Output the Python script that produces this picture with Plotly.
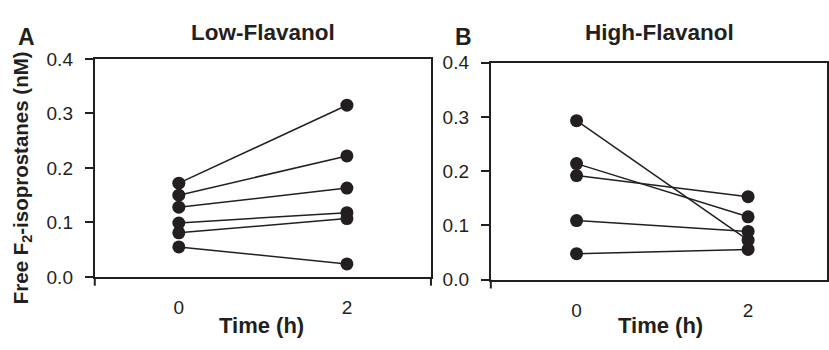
import plotly.graph_objects as go

# ---- data ----
times = [0, 2]
low_t0 = [0.172, 0.150, 0.128, 0.099, 0.081, 0.055]
low_t2 = [0.315, 0.222, 0.163, 0.118, 0.107, 0.024]
high_t0 = [0.293, 0.214, 0.192, 0.109, 0.048]
high_t2 = [0.073, 0.116, 0.153, 0.089, 0.056]
y_ticks = [0.0, 0.1, 0.2, 0.3, 0.4]
y_ticklabels = ["0.0", "0.1", "0.2", "0.3", "0.4"]
x_ticks = [0, 2]
panel_titles = ["Low-Flavanol", "High-Flavanol"]
panel_letters = ["A", "B"]

INK = "#231f20"
W, H = 829, 350

fig = go.Figure()

def add_pairs(t0, t2, xa, ya):
    for a, b in zip(t0, t2):
        fig.add_trace(go.Scatter(
            x=times, y=[a, b], mode="lines+markers",
            line=dict(color=INK, width=1.5),
            marker=dict(color=INK, size=13),
            xaxis=xa, yaxis=ya, showlegend=False, hoverinfo="y"))

add_pairs(low_t0, low_t2, "x", "y")
add_pairs(high_t0, high_t2, "x2", "y2")

tick_font = dict(family="Liberation Sans, Arial", size=19, color=INK)
bold = dict(family="Liberation Sans, Arial", size=22, color=INK)

def xaxis(domain, rng, anchor):
    return dict(domain=domain, range=rng, anchor=anchor, tickvals=x_ticks,
                ticks="", showgrid=False, zeroline=False,
                showline=True, linecolor=INK, linewidth=2, mirror=True,
                tickfont=tick_font, ticklabelstandoff=12)

def yaxis(domain, anchor):
    return dict(domain=domain, range=[0, 0.4], anchor=anchor,
                tickvals=y_ticks, ticktext=y_ticklabels,
                ticks="outside", ticklen=8, tickwidth=2, tickcolor=INK,
                showgrid=False, zeroline=False,
                showline=True, linecolor=INK, linewidth=2, mirror=True,
                tickfont=tick_font, ticklabelstandoff=8)

xA = [95 / W, 432 / W]
yA = [1 - 284 / H, 1 - 52 / H]
xB = [492 / W, 1.0]
yB = [1 - 287 / H, 1 - 56 / H]

fig.update_layout(
    width=W, height=H,
    margin=dict(l=0, r=0, t=0, b=0),
    paper_bgcolor="white", plot_bgcolor="white",
    xaxis=xaxis(xA, [-1, 3], "y"),
    yaxis=yaxis(yA, "x"),
    xaxis2=xaxis(xB, [-1, 2.92], "y2"),
    yaxis2=yaxis(yB, "x2"),
)

# vertical frame lines extend slightly below the bottom axis
for xref, yref, xs in [("x domain", "y domain", [0, 1]), ("x2 domain", "y2 domain", [0])]:
    for xv in xs:
        fig.add_shape(type="line", xref=xref, yref=yref, x0=xv, x1=xv, y0=-0.04, y1=0,
                      line=dict(color=INK, width=2))

ann = []
ann.append(dict(text="<b>%s</b>" % panel_titles[0], x=264 / W, y=1 - 24 / H, size=22.5))
ann.append(dict(text="<b>%s</b>" % panel_titles[1], x=661 / W, y=1 - 24 / H, size=22.5))
ann.append(dict(text="<b>%s</b>" % panel_letters[0], x=27 / W, y=1 - 29 / H, size=23))
ann.append(dict(text="<b>%s</b>" % panel_letters[1], x=465 / W, y=1 - 29 / H, size=23))
ann.append(dict(text="<b>Time (h)</b>", x=262 / W, y=1 - 336 / H))
ann.append(dict(text="<b>Time (h)</b>", x=662 / W, y=1 - 336 / H))
for a in ann:
    f = dict(bold)
    if "size" in a:
        f["size"] = a.pop("size")
    fig.add_annotation(xref="paper", yref="paper", xanchor="center", yanchor="middle",
                       showarrow=False, font=f, **a)
ytitle_font = dict(bold, size=20.5)
fig.add_annotation(text="<b>Free F<sub>2</sub>-isoprostanes (nM)</b>", xref="paper", yref="paper",
                   x=22 / W, y=1 - 178 / H, textangle=-90, showarrow=False,
                   xanchor="center", yanchor="middle", font=ytitle_font)

fig.write_html("out.html", config={"displayModeBar": False},
               post_script="document.body.style.margin='0';document.body.style.overflow='hidden';")
